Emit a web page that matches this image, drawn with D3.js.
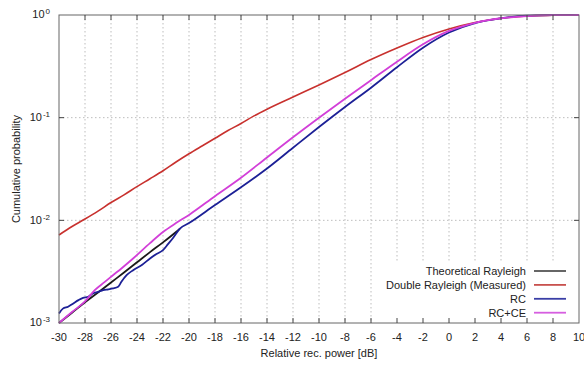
<!DOCTYPE html>
<html lang="en">
<head>
<meta charset="utf-8" />
<title>CDF</title>
<style type="text/css">
  body { margin: 0; background: #fff; }
  text { font-family: "Liberation Sans", Arial, sans-serif; fill: #222; }
</style>
</head>
<body>
<div id="graph"></div>
<script src="https://d3js.org/d3.v7.min.js"></script>
<script type="text/javascript">
var CHART_WIDTH = 584, CHART_HEIGHT = 367;
var margin = { top: 15, right: 5, bottom: 44, left: 59 },
    width = CHART_WIDTH - margin.left - margin.right,
    height = CHART_HEIGHT - margin.top - margin.bottom;

// x ticks (dB) and y decades
var xTicks = [-30,-28,-26,-24,-22,-20,-18,-16,-14,-12,-10,-8,-6,-4,-2,0,2,4,6,8,10];
var yTicks = [1, 0.1, 0.01, 0.001];
var yExp = ["0", "-1", "-2", "-3"];

// series
var theoX = [-30,-29,-28,-27,-26,-25,-24,-23,-22,-21,-20.7];
var theoP = [0.00100,0.00126,0.00159,0.00198,0.00248,0.00310,0.00390,0.00490,0.00610,0.00770,0.00830];

var redX = [-30,-29,-28,-27,-26,-25,-24,-23,-22,-21,-20,-19,-18,-17,-16,-15,-14,-12,-10,-8,-6,-4,-2,0,2,4,6,8,10];
var redP = [0.0072,0.0087,0.0103,0.0123,0.0149,0.0177,0.0213,0.0254,0.0304,0.0370,0.0445,0.0530,0.0630,0.075,0.0877,0.104,0.121,0.159,0.208,0.275,0.368,0.477,0.604,0.731,0.845,0.929,0.978,0.993,1.0];

var rcX = [-30,-29.7,-29.3,-28.9,-28.5,-28.15,-27.75,-27.4,-27,-26.6,-26.2,-25.85,-25.45,-25.2,-24.8,-24.3,-23.6,-23,-22.5,-22,-21.6,-21.2,-20.7,-20,-18,-16,-14,-12,-10,-8,-6,-4,-2,0,2,4,6,8,10];
var rcP = [0.00124,0.00138,0.00144,0.00155,0.00167,0.00176,0.00180,0.00194,0.00201,0.00209,0.00213,0.00217,0.00225,0.00252,0.00292,0.00327,0.0037,0.00425,0.0047,0.00513,0.0059,0.0068,0.0083,0.0094,0.0141,0.021,0.032,0.051,0.081,0.127,0.196,0.31,0.48,0.675,0.835,0.93,0.985,0.998,1.0];

var rcceX = [-30,-29,-28,-27.25,-26.5,-25.85,-25.2,-24.3,-23,-22,-21,-20,-18,-16,-14,-12,-10,-8,-6,-4,-2,0,2,4,6,8,10];
var rcceP = [0.00100,0.00128,0.00162,0.00209,0.00250,0.00292,0.00340,0.00425,0.0060,0.0077,0.0094,0.0113,0.0172,0.026,0.041,0.0645,0.100,0.153,0.232,0.351,0.519,0.70,0.84,0.93,0.975,0.995,1.0];

var seriesNames = ["Theoretical Rayleigh", "Double Rayleigh (Measured)", "RC", "RC+CE"];
var seriesColors = ["#1a1a1a", "#c8312e", "#1c2096", "#d23fd8"];
var seriesX = [theoX, redX, rcX, rcceX];
var seriesP = [theoP, redP, rcP, rcceP];
var legendColors = ["#555", "#c8514e", "#3a3ea6", "#d65ee0"];

var svg = d3.select("#graph").append("svg")
    .attr("width", CHART_WIDTH)
    .attr("height", CHART_HEIGHT);
var g = svg.append("g")
    .attr("transform", "translate(" + margin.left + "," + margin.top + ")");

var xScale = d3.scaleLinear().domain([-30, 10]).range([0, width]);
var yScale = d3.scaleLog().domain([0.001, 1]).range([height, 0]);

// grid (dotted)
g.append("g").attr("class", "grid-x")
  .selectAll("line").data(xTicks.slice(1, -1)).enter().append("line")
    .attr("x1", d => xScale(d)).attr("x2", d => xScale(d))
    .attr("y1", 0).attr("y2", height)
    .attr("stroke", "#bdbdbd").attr("stroke-dasharray", "1.5,2.5");
g.append("g").attr("class", "grid-y")
  .selectAll("line").data(yTicks.slice(1, -1)).enter().append("line")
    .attr("x1", 0).attr("x2", width)
    .attr("y1", d => yScale(d)).attr("y2", d => yScale(d))
    .attr("stroke", "#bdbdbd").attr("stroke-dasharray", "1.5,2.5");

// lines
var line = d3.line()
    .x(d => xScale(d[0]))
    .y(d => yScale(d[1]))
    .curve(d3.curveMonotoneX);

seriesNames.forEach(function(name, i) {
  var pts = seriesX[i].map((x, j) => [x, seriesP[i][j]]);
  g.append("path")
    .datum(pts)
    .attr("fill", "none")
    .attr("stroke", seriesColors[i])
    .attr("stroke-width", i == 1 ? 1.6 : 1.8)
    .attr("stroke-linejoin", "round")
    .attr("d", line);
});

// legend (opaque box)
var lg = g.append("g").attr("class", "legend");
lg.append("rect")
  .attr("x", 313).attr("y", 247)
  .attr("width", width - 313 - 1).attr("height", height - 247 - 1)
  .attr("fill", "#fff");
seriesNames.forEach(function(name, i) {
  var yy = 256 + i * 13.9;
  lg.append("text")
    .attr("x", 467).attr("y", yy).attr("dy", "0.35em")
    .attr("text-anchor", "end")
    .style("font-size", "11px")
    .text(name);
  lg.append("line")
    .attr("x1", 475).attr("x2", 507)
    .attr("y1", yy).attr("y2", yy)
    .attr("stroke", legendColors[i]).attr("stroke-width", 1.8);
});

// border
g.append("rect")
  .attr("x", 0).attr("y", 0).attr("width", width).attr("height", height)
  .attr("fill", "none").attr("stroke", "#666").attr("stroke-width", 1);

// inward ticks, all four sides
var tk = g.append("g").attr("stroke", "#444").attr("stroke-width", 1);
xTicks.slice(1, -1).forEach(function(d) {
  tk.append("line").attr("x1", xScale(d)).attr("x2", xScale(d)).attr("y1", height).attr("y2", height - 5);
  tk.append("line").attr("x1", xScale(d)).attr("x2", xScale(d)).attr("y1", 0).attr("y2", 5);
});
yTicks.slice(1, -1).forEach(function(d) {
  tk.append("line").attr("x1", 0).attr("x2", 5).attr("y1", yScale(d)).attr("y2", yScale(d));
  tk.append("line").attr("x1", width).attr("x2", width - 5).attr("y1", yScale(d)).attr("y2", yScale(d));
});

// x tick labels
g.append("g").selectAll("text").data(xTicks).enter().append("text")
  .attr("x", d => xScale(d))
  .attr("y", height + 14).attr("dy", "0.35em")
  .attr("text-anchor", "middle")
  .style("font-size", "11px")
  .text(d => d);

// y tick labels 10^n
var yl = g.append("g").selectAll("text").data(yTicks).enter().append("text")
  .attr("x", -9)
  .attr("y", d => yScale(d)).attr("dy", "0.3em")
  .attr("text-anchor", "end")
  .style("font-size", "11px");
yl.append("tspan").text("10");
yl.append("tspan")
  .attr("dx", 1).attr("dy", -4)
  .style("font-size", "8px")
  .text((d, i) => yExp[i]);

// axis titles
svg.append("text")
  .attr("x", margin.left + width / 2).attr("y", 357)
  .attr("text-anchor", "middle")
  .style("font-size", "11px")
  .text("Relative rec. power [dB]");
svg.append("text")
  .attr("transform", "translate(16," + (margin.top + height / 2) + ") rotate(-90)")
  .attr("text-anchor", "middle")
  .attr("dy", "0.35em")
  .style("font-size", "11px")
  .text("Cumulative probability");
</script>
</body>
</html>
